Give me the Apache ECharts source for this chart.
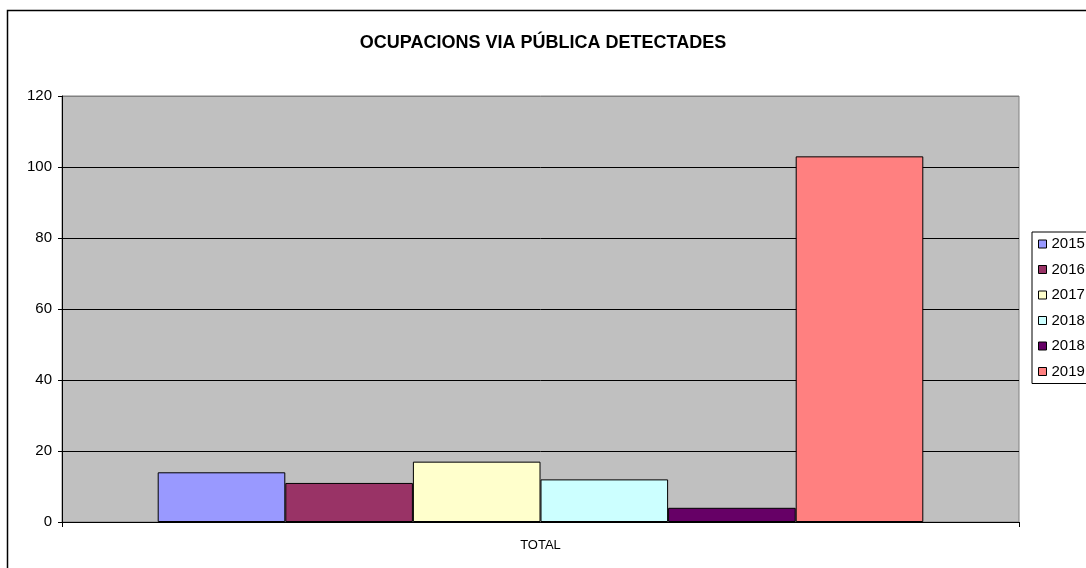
<!DOCTYPE html>
<html>
<head>
<meta charset="utf-8">
<script src="https://cdn.jsdelivr.net/npm/echarts@6/dist/echarts.min.js"></script>
<style>
html,body{margin:0;padding:0;background:#fff;}
#chart{width:1086px;height:568px;}
</style>
</head>
<body>
<div id="chart"></div>
<script>
var categories = ['TOTAL'];
var seriesKeys = ['2015', '2016', '2017', '2018a', '2018b', '2019'];
var seriesLabels = ['2015', '2016', '2017', '2018', '2018', '2019'];
var seriesValues = [14, 11, 17, 12, 4, 103];
var seriesColors = ['#9999FF', '#993366', '#FFFFCC', '#CCFFFF', '#660066', '#FF8080'];
var yTicks = [0, 20, 40, 60, 80, 100, 120];

var font = '"Liberation Sans", Arial, sans-serif';
var chart = echarts.init(document.getElementById('chart'));

var series = seriesKeys.map(function (k, i) {
  return {
    name: k,
    type: 'bar',
    data: [seriesValues[i]],
    barGap: '0%',
    barCategoryGap: '20%',
    itemStyle: { color: seriesColors[i], borderColor: '#000', borderWidth: 1 },
    emphasis: { disabled: true }
  };
});

var splitColors = yTicks.map(function (t, i) { return i === yTicks.length - 1 ? '#808080' : '#000'; });

chart.setOption({
  animation: false,
  backgroundColor: '#fff',
  title: {
    text: 'OCUPACIONS VIA PÚBLICA DETECTADES',
    left: 'center',
    top: 29,
    textStyle: { fontFamily: font, fontSize: 18, fontWeight: 'bold', color: '#000' }
  },
  graphic: [{
    type: 'rect',
    shape: { x: 7.5, y: 10.5, width: 1200, height: 700 },
    style: { fill: 'none', stroke: '#000', lineWidth: 1.5 },
    z: -1
  }],
  legend: {
    orient: 'vertical',
    left: 1032,
    top: 232,
    data: seriesKeys,
    formatter: function (name) { return seriesLabels[seriesKeys.indexOf(name)]; },
    icon: 'rect',
    itemWidth: 8,
    itemHeight: 8,
    itemGap: 9.5,
    padding: [4, 20, 4, 6],
    borderColor: '#000',
    borderWidth: 1,
    backgroundColor: '#fff',
    selectedMode: false,
    itemStyle: { borderColor: '#000', borderWidth: 1 },
    textStyle: { fontFamily: font, fontSize: 15, lineHeight: 16, color: '#000' }
  },
  grid: {
    left: 62, right: 67, top: 96, bottom: 46,
    show: true, backgroundColor: '#C0C0C0', borderColor: '#808080', borderWidth: 1
  },
  xAxis: {
    type: 'category',
    data: categories,
    axisLine: { lineStyle: { color: '#000', width: 1 } },
    axisTick: { show: true, length: 5, lineStyle: { color: '#000' } },
    axisLabel: { fontFamily: font, fontSize: 13, color: '#000', margin: 17 }
  },
  yAxis: {
    type: 'value',
    min: 0, max: 120, interval: 20,
    axisLine: { show: true, lineStyle: { color: '#000', width: 1 } },
    axisTick: { show: true, length: 4, lineStyle: { color: '#000' } },
    axisLabel: { fontFamily: font, fontSize: 15, color: '#000', margin: 10 },
    splitLine: { show: true, lineStyle: { color: splitColors, width: 1 } }
  },
  series: series
});
</script>
</body>
</html>
